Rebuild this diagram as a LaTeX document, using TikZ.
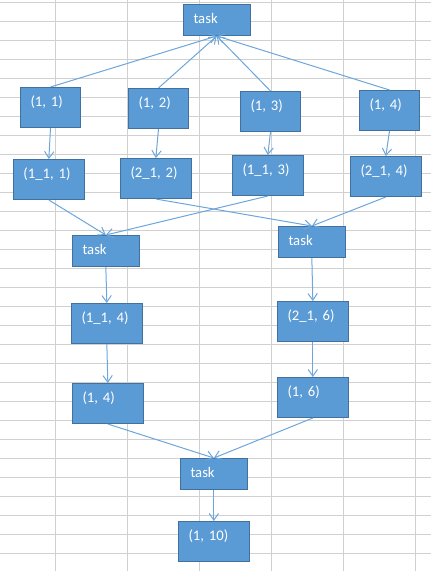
\documentclass[tikz,border=0pt]{standalone}
\usepackage{fontspec}
\setmainfont{Carlito}
\usepackage{tikz}
\usetikzlibrary{arrows.meta}

\definecolor{cellfill}{HTML}{5B9BD5}
\definecolor{cellborder}{HTML}{41719C}
\definecolor{linkblue}{HTML}{6CA6DC}
\definecolor{gridgray}{HTML}{D0D0D0}

\begin{document}
\begin{tikzpicture}[
  x=0.75pt, y=-0.75pt,
  cell/.style={
    rectangle, anchor=north west,
    draw=cellborder, line width=0.75pt,
    fill=cellfill, text=white,
    font=\fontsize{11}{13}\selectfont,
    inner xsep=7.5pt, inner ysep=0pt, align=left,
    text width=30pt, % (1, x) boxes
    text height=14pt, text depth=16pt
  },
  wide/.style={cell, text width=38pt},
  taskbox/.style={cell, text width=35pt, text depth=9.25pt},
  link/.style={draw=linkblue, line width=0.75pt,
    -{Straight Barb[length=5pt,width=7pt]}}
]
\useasboundingbox (0,0) rectangle (431,571);

% sheet grid
\foreach \k in {0,...,29}
  \draw[gridgray, line width=0.75pt] (0,2.5+19*\k) -- (431,2.5+19*\k);
\foreach \gx in {55.5,127.5,199.5,271.5,343.5,415.5}
  \draw[gridgray, line width=0.75pt] (\gx,0) -- (\gx,571);

% first level
\node [taskbox] (task0) at (183,4) {task};
\node [cell] (a1) at (20,87) {(1, 1)};
\node [cell] (a2) at (128,88) {(1, 2)};
\node [cell] (a3) at (240,91) {(1, 3)};
\node [cell] (a4) at (359,90) {(1, 4)};
\node [wide] (b1) at (13,159) {(1\_1, 1)};
\node [wide] (b2) at (120,158) {(2\_1, 2)};
\node [wide] (b3) at (232,155) {(1\_1, 3)};
\node [wide] (b4) at (350,156) {(2\_1, 4)};

% second level
\node [taskbox] (taskL) at (72,235) {task};
\node [taskbox] (taskR) at (278,226) {task};
\node [wide] (c1) at (71,303) {(1\_1, 4)};
\node [wide] (c2) at (277,301) {(2\_1, 6)};
\node [wide] (d1) at (72,383) {(1, 4)};
\node [wide] (d2) at (277,377) {(1, 6)};

% third level
\node [taskbox] (taskB) at (180,458) {task};
\node [wide] (e1) at (178,521) {(1, 10)};

\foreach \n in {a1,a2,a3,a4}
  \draw [link] (\n.north) -- (task0.south);
\foreach \u/\v in {a1/b1,a2/b2,a3/b3,a4/b4}
  \draw [link] (\u.south) -- (\v.north);
\draw [link] (b1.south) -- (taskL.north);
\draw [link] (b3.south) -- (taskL.north);
\draw [link] (b2.south) -- (taskR.north);
\draw [link] (b4.south) -- (taskR.north);
\draw [link] (taskL.south) -- (c1.north);
\draw [link] (taskR.south) -- (c2.north);
\draw [link] (c1.south) -- (d1.north);
\draw [link] (c2.south) -- (d2.north);
\draw [link] (d1.south) -- (taskB.north);
\draw [link] (d2.south) -- (taskB.north);
\draw [link] (taskB.south) -- (e1.north);
\end{tikzpicture}
\end{document}
